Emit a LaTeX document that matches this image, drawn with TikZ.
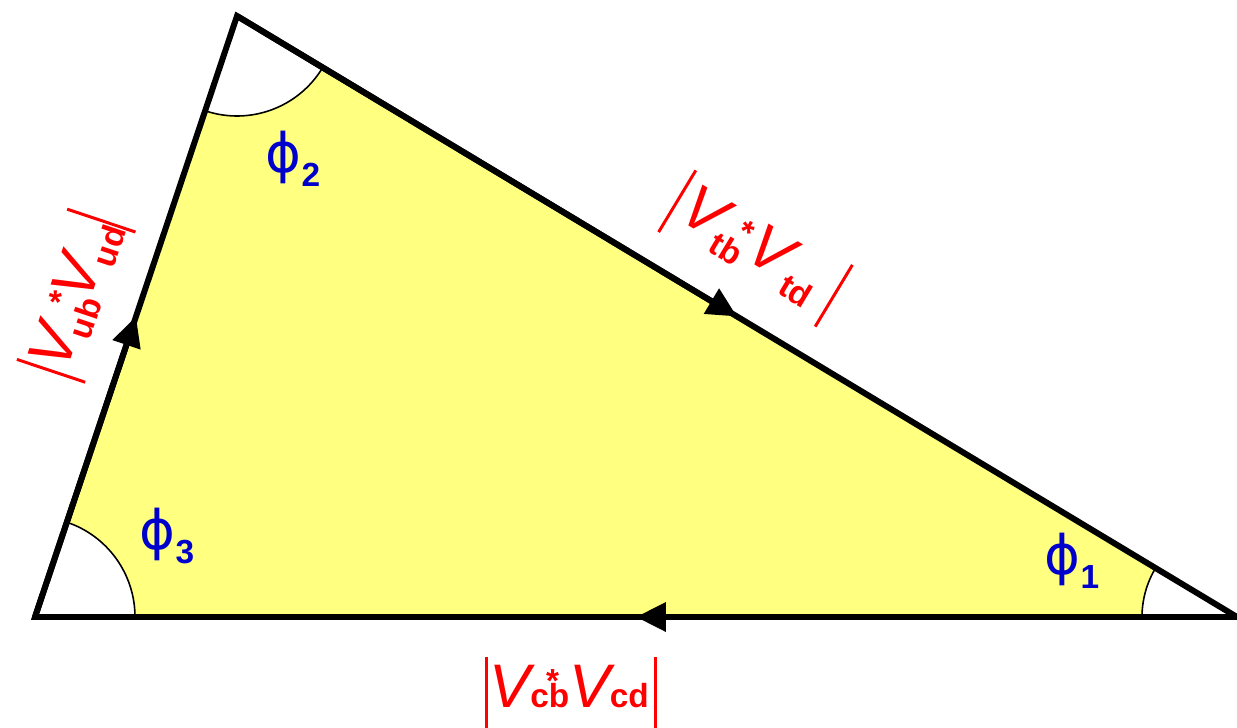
\documentclass[tikz,border=0pt]{standalone}
\usepackage{fontspec}
\setmainfont{Liberation Sans}
\newfontfamily\grk{DejaVu Sans}
\usetikzlibrary{arrows.meta,calc}
\definecolor{triyellow}{RGB}{255,255,128}
\definecolor{angblue}{RGB}{0,0,204}
\newcommand{\vbar}{\rule[-12pt]{1.7pt}{41pt}}
\newcommand{\sbs}[2][-3pt]{\raisebox{#1}{\fontsize{19}{19}\selectfont\bfseries #2}}
\newcommand{\cstar}[1][7pt]{\raisebox{#1}{\fontsize{19}{19}\selectfont\bfseries *}}
\newcommand{\angl}[1]{{\grk\fontsize{31}{31}\selectfont ϕ}\sbs[-8pt]{#1}}

\begin{document}
\begin{tikzpicture}[line join=miter,
  side/.style={draw, line width=3.4pt},
  half/.style={draw, line width=3.4pt, -{Triangle[length=17pt,width=16pt]}},
  wedge/.style={fill=white},
  arcline/.style={line width=0.9pt},
  lbl/.style={text=red, font=\fontsize{35}{35}\selectfont, inner sep=0pt},
  ang/.style={text=angblue, inner sep=0pt}]
  \useasboundingbox (0,0) rectangle (24.74,14.54);
  \coordinate (A) at (0.70,2.20);
  \coordinate (B) at (4.74,14.22);
  \coordinate (C) at (24.74,2.20);
  \coordinate (mAB) at ($(A)!0.5!(B)$);
  \coordinate (mBC) at ($(B)!0.5!(C)$);
  \coordinate (mCA) at ($(C)!0.5!(A)$);
  % triangle
  \fill[triyellow] (A) -- (B) -- (C) -- cycle;
  % angle wedges
  \fill[wedge] (A) -- ++(0:2) arc[start angle=0, end angle=71.5, radius=2] -- cycle;
  \fill[wedge] (B) -- ++(251.5:2) arc[start angle=251.5, end angle=328.9, radius=2] -- cycle;
  \fill[wedge] (C) -- ++(148.9:1.9) arc[start angle=148.9, end angle=180, radius=1.9] -- cycle;
  \draw[arcline] (A) ++(0:2) arc[start angle=0, end angle=71.5, radius=2];
  \draw[arcline] (B) ++(251.5:2) arc[start angle=251.5, end angle=328.9, radius=2];
  \draw[arcline] (C) ++(148.9:1.9) arc[start angle=148.9, end angle=180, radius=1.9];
  % sides
  \draw[side] (A) -- (B) -- (C) -- cycle;
  \draw[half] (A) -- (mAB);
  \draw[half] (B) -- (mBC);
  \draw[half] (C) -- (mCA);
  % labels
  \node[lbl, rotate=71.5] (vub) at (1.524,8.626)
    {\vbar\kern1pt\textit{V}\kern-5pt\sbs[-7pt]{ub}\kern-9pt\cstar[10pt]\kern-1.5pt\textit{V}\kern-3pt\sbs[-7pt]{ud}\vbar};
  \node[lbl, rotate=-31.1] (vtb) at (15.11,9.57)
    {\vbar\kern4pt\textit{V}\kern-2pt\sbs[-7pt]{tb}\kern-8pt\cstar\kern2pt\textit{V}\kern1pt\sbs[-7pt]{td}\kern10pt\vbar};
  \node[lbl] (vcb) at (11.42,0.68)
    {\vbar\kern1pt\textit{V}\kern-3pt\rlap{\kern9pt\cstar[9pt]}\sbs[0pt]{cb}\textit{V}\kern-3pt\sbs[0pt]{cd}\kern3pt\vbar};
  \node[ang] (p3) at (3.34,3.82) {\angl{3}};
  \node[ang] (p2) at (5.86,11.36) {\angl{2}};
  \node[ang] (p1) at (21.44,3.32) {\angl{1}};
\end{tikzpicture}
\end{document}
